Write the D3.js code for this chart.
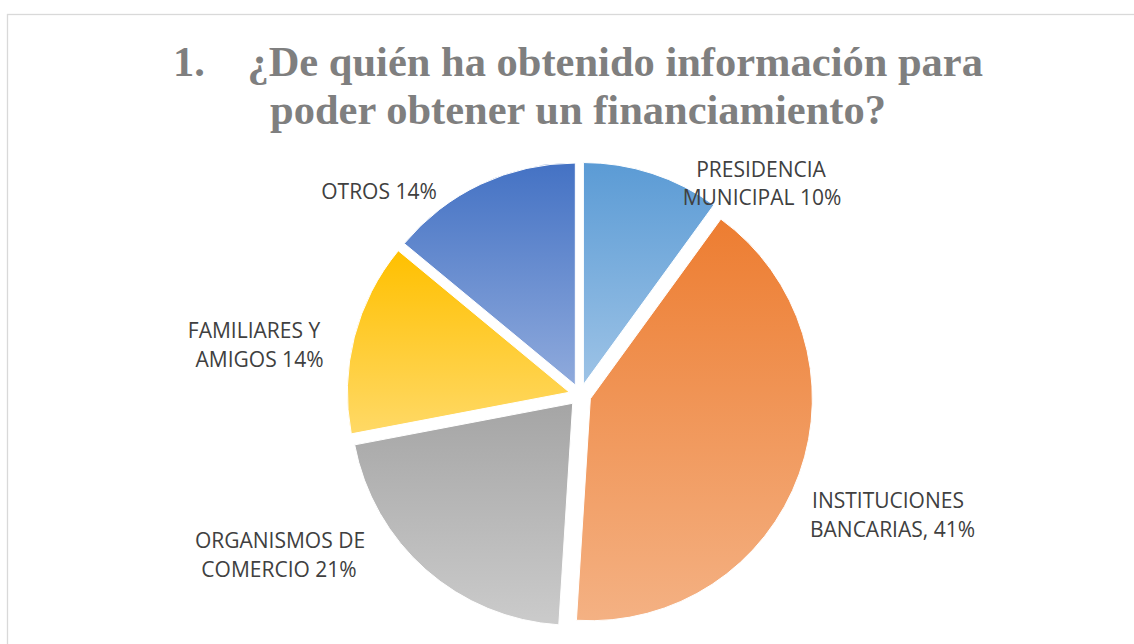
<!DOCTYPE html>
<html lang="es">
<head>
    <meta charset="UTF-8">
    <title>Fuentes de informacion para financiamiento</title>
    <style>
        html, body { margin: 0; padding: 0; background: #fff; }
        svg { display: block; }
    </style>
</head>
<body>
    <svg id="chart" width="1134" height="644"></svg>

    <script src="https://cdnjs.cloudflare.com/ajax/libs/d3/7.8.5/d3.min.js"></script>
    <script>
        // datos
        var categories = ["PRESIDENCIA MUNICIPAL", "INSTITUCIONES BANCARIAS", "ORGANISMOS DE COMERCIO", "FAMILIARES Y AMIGOS", "OTROS"];
        var percents = [10, 41, 21, 14, 14];
        var labelLines = [
            ["PRESIDENCIA", "MUNICIPAL 10%"],
            ["INSTITUCIONES", "BANCARIAS, 41%"],
            ["ORGANISMOS DE", "COMERCIO 21%"],
            ["FAMILIARES Y", "AMIGOS 14%"],
            ["OTROS 14%"]
        ];
        var titleLines = ["1.    \u00bfDe qui\u00e9n ha obtenido informaci\u00f3n para", "poder obtener un financiamiento?"];

        // colores (arriba -> abajo de cada rebanada)
        var gradTop = ["#5B9BD5", "#ED7D31", "#A5A5A5", "#FFC000", "#4472C4"];
        var gradBottom = ["#9DC3E6", "#F4B183", "#CBCBCB", "#FFD966", "#8FAADC"];

        var width = 1134, height = 644;
        var cx = 580, cy = 395, radius = 222, explode = 11;

        // posicion de cada etiqueta respecto al centro del pastel (primera linea)
        var labelOffset = [[181, -218.5], [308, 113], [-300, 153], [-326, -57], [-201, -196]];
        var lineShift = [[0, 1], [0, 4.5], [0, -1], [0, 5.5], [0]];
        var lineHeight = 28.5;

        var svg = d3.select("#chart");

        // borde del area del grafico
        svg.append("rect")
            .attr("x", 7.5).attr("y", 14.5)
            .attr("width", width + 20).attr("height", height + 20)
            .attr("fill", "#fff")
            .attr("stroke", "#D9D9D9")
            .attr("stroke-width", 1.3);

        var defs = svg.append("defs");
        percents.forEach(function (p, i) {
            var g = defs.append("linearGradient")
                .attr("id", "grad" + i)
                .attr("x1", 0).attr("y1", 0).attr("x2", 0).attr("y2", 1);
            g.append("stop").attr("offset", "0%").attr("stop-color", gradTop[i]);
            g.append("stop").attr("offset", "100%").attr("stop-color", gradBottom[i]);
        });

        // titulo
        svg.append("text")
            .attr("x", 578)
            .attr("text-anchor", "middle")
            .style("font-family", "'Liberation Serif', 'Times New Roman', serif")
            .style("font-weight", "bold")
            .style("font-size", "42.5px")
            .style("white-space", "pre")
            .attr("fill", "#7F7F7F")
            .selectAll("tspan")
            .data(titleLines)
            .enter().append("tspan")
            .attr("x", 578)
            .attr("y", function (d, i) { return 76 + i * 47.5; })
            .text(function (d) { return d; });

        var pie = d3.pie().sort(null).value(function (d) { return d; });
        var arc = d3.arc().innerRadius(0).outerRadius(radius);
        var arcs = pie(percents);

        var g = svg.append("g").attr("transform", "translate(" + cx + "," + cy + ")");

        g.selectAll("path.slice")
            .data(arcs)
            .enter().append("path")
            .attr("class", "slice")
            .attr("transform", function (d) {
                var p = d3.pointRadial((d.startAngle + d.endAngle) / 2, explode);
                return "translate(" + p[0] + "," + p[1] + ")";
            })
            .attr("d", arc)
            .attr("fill", function (d, i) { return "url(#grad" + i + ")"; })
            .attr("stroke", "#fff")
            .attr("stroke-width", 1);

        // etiquetas de datos
        var labels = g.selectAll("text.label")
            .data(arcs)
            .enter().append("text")
            .attr("class", "label")
            .attr("text-anchor", "middle")
            .style("font-family", "'Open Sans', 'Noto Sans', sans-serif")
            .style("font-size", "21px")
            .attr("fill", "#404040");

        labels.selectAll("tspan")
            .data(function (d, i) {
                return labelLines[i].map(function (t, j) {
                    return { text: t, x: labelOffset[i][0] + lineShift[i][j], y: labelOffset[i][1] + j * lineHeight };
                });
            })
            .enter().append("tspan")
            .attr("x", function (d) { return d.x; })
            .attr("y", function (d) { return d.y; })
            .text(function (d) { return d.text; });
    </script>
</body>
</html>
